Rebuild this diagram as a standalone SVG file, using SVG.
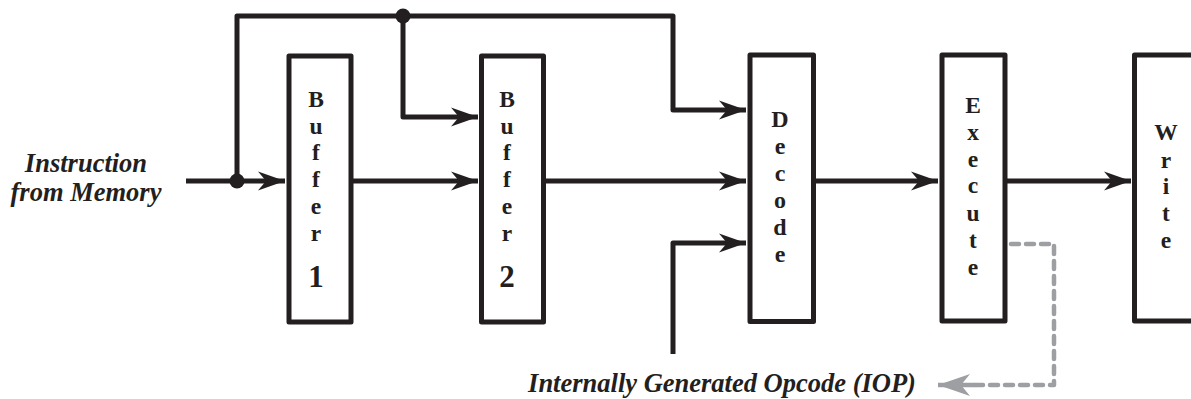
<svg xmlns="http://www.w3.org/2000/svg" width="1191" height="399" viewBox="0 0 1191 399">
<style>
.box{fill:#fff;stroke:#231f20;stroke-width:5;stroke-linejoin:round}
.wire{fill:none;stroke:#231f20;stroke-width:5;stroke-linejoin:round}
.dash{fill:none;stroke:#9d9fa2;stroke-width:4.5;stroke-dasharray:8 7;stroke-linecap:round;stroke-linejoin:round}
.lt{font-family:"Liberation Serif","Times New Roman",serif;font-weight:bold;font-size:23.5px;fill:#231f20;text-anchor:middle}
.big{font-size:24px}
.num{font-size:31px}
.lab{font-family:"Liberation Serif","Times New Roman",serif;font-weight:bold;font-style:italic;font-size:26.5px;fill:#231f20;text-anchor:middle}
</style>
<defs>
<marker id="ah" markerUnits="userSpaceOnUse" markerWidth="30" markerHeight="22" viewBox="-28 -11 30 22" refX="0" refY="0" orient="auto">
<path d="M0,0 L-27,-9.5 L-19,0 L-27,9.5 Z" fill="#231f20"/>
</marker>
<marker id="ahg" markerUnits="userSpaceOnUse" markerWidth="36" markerHeight="26" viewBox="-34 -13 36 26" refX="0" refY="0" orient="auto">
<path d="M0,0 L-32,-11 L-23,0 L-32,11 Z" fill="#9d9fa2"/>
</marker>
</defs>

<g id="connectors">
<path class="wire" d="M186,181 H285" marker-end="url(#ah)"/>
<path class="wire" d="M237,181 V16 H673 V110 H746" marker-end="url(#ah)"/>
<path class="wire" d="M403,16 V117 H478" marker-end="url(#ah)"/>
<path class="wire" d="M352,181 H478" marker-end="url(#ah)"/>
<path class="wire" d="M544,181 H746" marker-end="url(#ah)"/>
<path class="wire" d="M673,354 V243 H746" marker-end="url(#ah)"/>
<path class="wire" d="M814,181 H938" marker-end="url(#ah)"/>
<path class="wire" d="M1006,181 H1131" marker-end="url(#ah)"/>
<circle cx="237" cy="181" r="7.5" fill="#231f20"/>
<circle cx="403" cy="16" r="7.5" fill="#231f20"/>
<path class="dash" d="M1011,244 H1054 V385 H975"/>
<path d="M975,385 H938" fill="none" stroke="#9d9fa2" stroke-width="4.5" marker-end="url(#ahg)"/>
</g>

<g id="buffer1">
<rect class="box" x="289" y="56" width="62" height="266"/>
<text class="lt" x="316" y="107">B</text>
<text class="lt" x="316" y="134">u</text>
<text class="lt" x="316" y="160">f</text>
<text class="lt" x="316" y="187">f</text>
<text class="lt" x="316" y="214">e</text>
<text class="lt" x="316" y="241">r</text>
<text class="lt num" x="316" y="287">1</text>
</g>

<g id="buffer2">
<rect class="box" x="481.5" y="56" width="62" height="266"/>
<text class="lt" x="507" y="107">B</text>
<text class="lt" x="507" y="134">u</text>
<text class="lt" x="507" y="160">f</text>
<text class="lt" x="507" y="187">f</text>
<text class="lt" x="507" y="214">e</text>
<text class="lt" x="507" y="241">r</text>
<text class="lt num" x="507" y="287">2</text>
</g>

<g id="decode">
<rect class="box" x="750" y="55" width="63.5" height="266.5"/>
<text class="lt big" x="780" y="127">D</text>
<text class="lt big" x="780" y="154">e</text>
<text class="lt big" x="780" y="181">c</text>
<text class="lt big" x="780" y="208">o</text>
<text class="lt big" x="780" y="235">d</text>
<text class="lt big" x="780" y="262">e</text>
</g>

<g id="execute">
<rect class="box" x="942" y="55" width="63" height="266"/>
<text class="lt" x="973" y="113">E</text>
<text class="lt" x="973" y="140">x</text>
<text class="lt" x="973" y="167">e</text>
<text class="lt" x="973" y="193">c</text>
<text class="lt" x="973" y="221">u</text>
<text class="lt" x="973" y="248">t</text>
<text class="lt" x="973" y="275">e</text>
</g>

<g id="write">
<path class="wire" d="M1196,55 H1134.5 V321 H1196"/>
<text class="lt" x="1166" y="140">W</text>
<text class="lt" x="1166" y="168">r</text>
<text class="lt" x="1166" y="194">i</text>
<text class="lt" x="1166" y="221">t</text>
<text class="lt" x="1166" y="248">e</text>
</g>

<g id="labels">
<text class="lab" x="86" y="172">Instruction</text>
<text class="lab" x="86" y="201">from Memory</text>
<text class="lab" x="722" y="392">Internally Generated Opcode (IOP)</text>
</g>
</svg>
